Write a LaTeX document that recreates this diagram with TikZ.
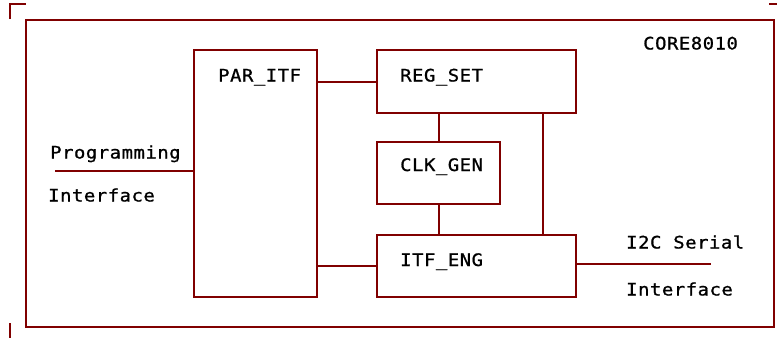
\documentclass[tikz,border=0pt]{standalone}
\usepackage{fontspec}
\setmonofont{DejaVu Sans Mono}[FakeStretch=1.1,LetterSpace=3,FakeBold=1]
\begin{document}
\begin{tikzpicture}[x=1pt,y=-1pt,
  wire/.style={draw=linecol,line width=2pt},
  blockbox/.style={draw=linecol,line width=2pt,rectangle,inner sep=0pt,anchor=north west},
  lbl/.style={anchor=base west,inner sep=0pt,font=\fontsize{17.2}{20}\ttfamily,text=black}]
\definecolor{linecol}{HTML}{800000}
\useasboundingbox (0,0) rectangle (777,338);
% corner marks
\draw[wire] (10,19) -- (10,4) -- (26,4);
\draw[wire] (10,323) -- (10,338);
\draw[wire] (769,4) -- (777,4);
% outer box
\node[blockbox,minimum width=748,minimum height=307] (core) at (25,19) {};
% blocks
\node[blockbox,minimum width=123,minimum height=247] (par) at (193,49) {};
\node[blockbox,minimum width=199,minimum height=63] (reg) at (376,49) {};
\node[blockbox,minimum width=123,minimum height=62] (clk) at (376,141) {};
\node[blockbox,minimum width=199,minimum height=62] (itf) at (376,234) {};
% labels
\node[lbl] (tcore) at (643,49.5) {CORE8010};
\node[lbl] (tpar) at (218,81.5) {PAR\_ITF};
\node[lbl] (treg) at (400,81.5) {REG\_SET};
\node[lbl] (tclk) at (400,171) {CLK\_GEN};
\node[lbl] (titf) at (400,266) {ITF\_ENG};
\node[lbl] (tprog1) at (50,158.5) {Programming};
\node[lbl] (tprog2) at (48,201.5) {Interface};
\node[lbl] (ti2c1) at (626,248.5) {I2C Serial};
\node[lbl] (ti2c2) at (626,295.5) {Interface};
% connectors
\coordinate (pin) at (55,171);
\coordinate (sout) at (711,264);
\coordinate (vx) at (543,0);
\draw[wire] (pin) -- (pin -| par.west);
\draw[wire] (par.east |- reg.west) -- (reg.west);
\draw[wire] (par.east |- itf.west) -- (itf.west);
\draw[wire] (clk.north) -- (clk.north |- reg.south);
\draw[wire] (clk.south) -- (clk.south |- itf.north);
\draw[wire] (vx |- reg.south) -- (vx |- itf.north);
\draw[wire] (itf.east |- sout) -- (sout);
\end{tikzpicture}
\end{document}
